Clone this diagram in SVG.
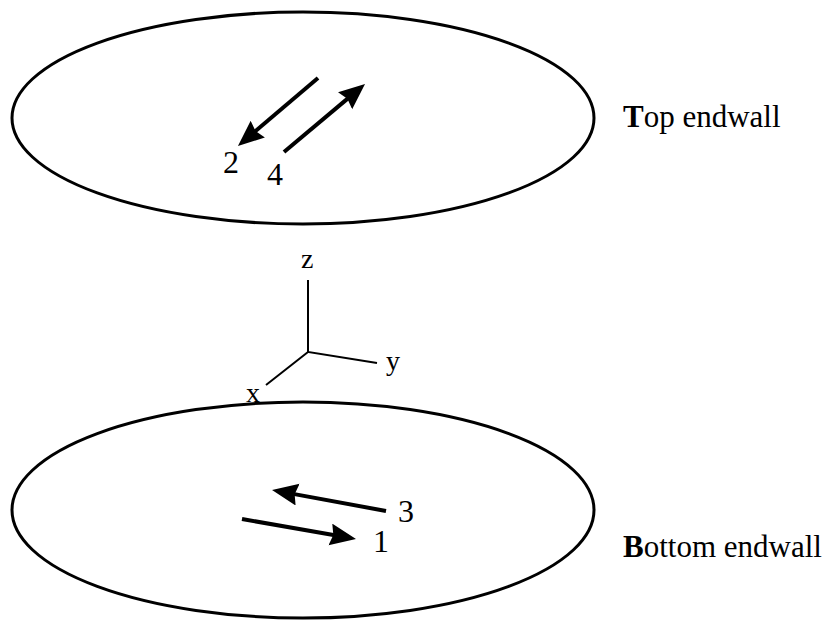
<svg xmlns="http://www.w3.org/2000/svg" width="832" height="620" viewBox="0 0 832 620">
<style>
.wall{fill:none;stroke:#000;stroke-width:3}
.arr{fill:none;stroke:#000;stroke-width:4;marker-end:url(#head)}
.ax{fill:none;stroke:#000;stroke-width:2}
text{font-family:"Liberation Serif","Times New Roman",serif;fill:#000}
.num{font-size:32px}
.axl{font-size:28px}
.lbl{font-size:31px}
</style>
<defs>
<marker id="head" markerUnits="userSpaceOnUse" markerWidth="28" markerHeight="24" refX="6" refY="11" orient="auto">
<path d="M0,0 L26,11 L0,22 L3,11 Z" fill="#000"/>
</marker>
</defs>
<rect width="832" height="620" fill="#fff"/>
<g id="top-endwall">
<ellipse class="wall" cx="303" cy="118" rx="291" ry="106"/>
<text class="lbl" x="623" y="127"><tspan font-weight="bold">T</tspan>op endwall</text>
</g>
<g id="bottom-endwall">
<ellipse class="wall" cx="303" cy="510" rx="291" ry="108"/>
<text class="lbl" x="623" y="557"><tspan font-weight="bold">B</tspan>ottom endwall</text>
</g>
<g id="axes">
<path class="ax" d="M308,280 V352 L377,363 M308,352 L266,385"/>
<text class="axl" x="301" y="268">z</text>
<text class="axl" x="386" y="370">y</text>
<text class="axl" x="246" y="402">x</text>
</g>
<g id="connectors">
<path class="arr" d="M318,78 L253.2,133"/>
<path class="arr" d="M284,152 L349.7,96.9"/>
<path class="arr" d="M386,511 L291.7,493.6"/>
<path class="arr" d="M242,519 L336.3,535.5"/>
</g>
<g id="labels">
<text class="num" x="223" y="173">2</text>
<text class="num" x="267" y="185">4</text>
<text class="num" x="398" y="522">3</text>
<text class="num" x="373" y="552">1</text>
</g>
</svg>
